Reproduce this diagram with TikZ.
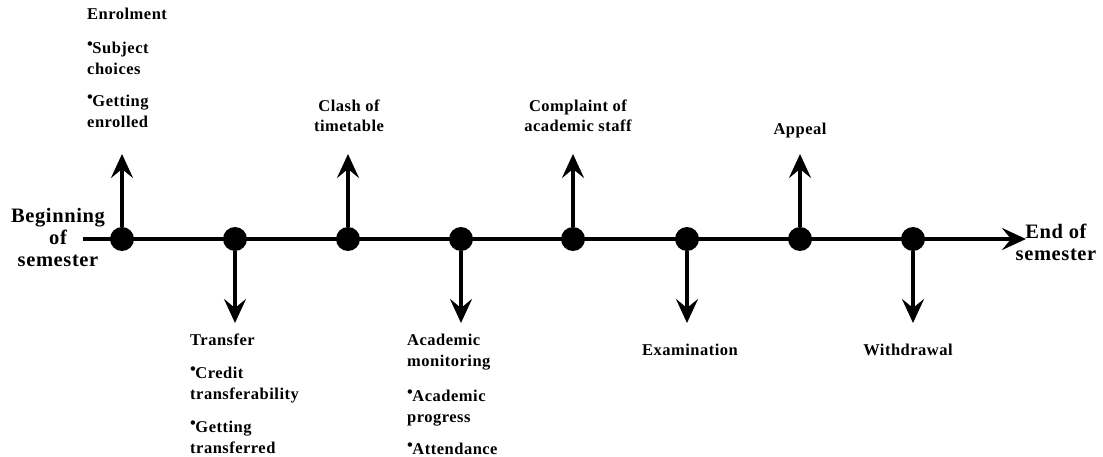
\documentclass[tikz,border=0pt]{standalone}
\usepackage{fontspec}
\setmainfont{Liberation Serif}[LetterSpace=3]
\usetikzlibrary{arrows.meta}
\newcommand{\bul}{\raisebox{0.24em}{\textbullet}\kern-0.5pt}
\tikzset{
  ev/.style={circle,fill=black,minimum size=24pt,inner sep=0pt},
  tl/.style={line width=3.5pt,-{Stealth[length=24pt,width=22pt,inset=9pt]}},
  lab/.style={font=\bfseries\fontsize{16.5}{21}\selectfont,inner sep=0pt,align=left,anchor=north west},
  labc/.style={font=\bfseries\fontsize{16.5}{20}\selectfont,inner sep=0pt,align=center,anchor=north},
  big/.style={font=\bfseries\fontsize{20.5}{22}\selectfont,inner sep=0pt,align=center,anchor=north}
}
\begin{document}
\begin{tikzpicture}[x=1pt,y=-1pt]
\useasboundingbox (0,0) rectangle (1103,457);
% axis
\coordinate (a0) at (83,239);
\coordinate (a1) at (1026,239);
\draw[tl] (a0) -- (a1);
% events
\node[ev] (d1) at (122,239) {};
\node[ev] (d2) at (235,239) {};
\node[ev] (d3) at (348,239) {};
\node[ev] (d4) at (461,239) {};
\node[ev] (d5) at (573,239) {};
\node[ev] (d6) at (687,239) {};
\node[ev] (d7) at (800,239) {};
\node[ev] (d8) at (913,239) {};
% arrow ends
\coordinate (u1) at (122,154);
\coordinate (u3) at (348,154);
\coordinate (u5) at (573,154);
\coordinate (u7) at (800,154);
\coordinate (w2) at (235,323);
\coordinate (w4) at (461,323);
\coordinate (w6) at (687,323);
\coordinate (w8) at (913,323);
\draw[tl] (d1) -- (u1);
\draw[tl] (d3) -- (u3);
\draw[tl] (d5) -- (u5);
\draw[tl] (d7) -- (u7);
\draw[tl] (d2) -- (w2);
\draw[tl] (d4) -- (w4);
\draw[tl] (d6) -- (w6);
\draw[tl] (d8) -- (w8);
% labels
\node[big] (beg) at (58,208) {Beginning\\of\\semester};
\node[big] (end) at (1056,224) {End of\\semester};
\node[lab] (enr) at (87,8) {Enrolment\\[13pt]\bul Subject\\choices\\[11pt]\bul Getting\\enrolled};
\node[labc] (cla) at (349,100) {Clash of\\timetable};
\node[labc] (com) at (578,100) {Complaint of\\academic staff};
\node[labc] (app) at (800,123) {Appeal};
\node[lab] (tra) at (190,334) {Transfer\\[12pt]\bul Credit\\transferability\\[12pt]\bul Getting\\transferred};
\node[lab] (aca) at (407,334) {Academic\\monitoring\\[14pt]\bul Academic\\progress\\[11pt]\bul Attendance};
\node[labc] (exa) at (690,344) {Examination};
\node[labc] (wit) at (908,344) {Withdrawal};
\end{tikzpicture}
\end{document}
